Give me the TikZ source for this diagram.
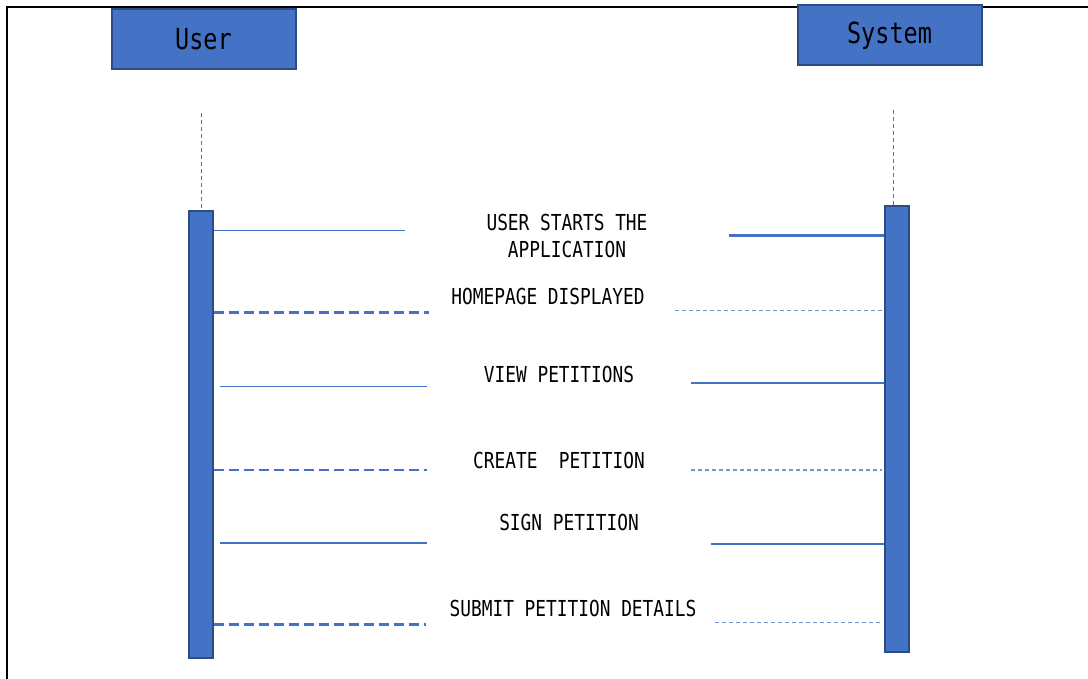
\documentclass[tikz,border=0pt]{standalone}
\usepackage{fontspec}
\newfontfamily\gothic[FakeStretch=0.81]{DejaVu Sans Mono}
\definecolor{boxblue}{HTML}{4472C4}
\definecolor{boxedge}{HTML}{2B4C85}
\definecolor{paleblue}{HTML}{7196D6}
\begin{document}
\begin{tikzpicture}[x=1pt,y=-1pt,
  actor/.style={draw=boxedge,line width=2pt,fill=boxblue,inner sep=0pt,
    minimum width=184pt,minimum height=60pt,font=\gothic\fontsize{29}{30}\selectfont},
  actbar/.style={draw=boxedge,line width=2pt,fill=boxblue,inner sep=0pt,minimum width=24pt},
  lifeline/.style={draw=boxblue,line width=1pt,dash pattern=on 4pt off 3pt},
  callthin/.style={draw=boxblue,line width=1.3pt},
  callthick/.style={draw=boxblue,line width=2.8pt},
  backthick/.style={draw=boxblue,line width=2.8pt,dash pattern=on 10pt off 5pt},
  backthin/.style={draw=paleblue,line width=1.2pt,dash pattern=on 4pt off 3pt},
  msg/.style={font=\gothic\fontsize{22}{27}\selectfont,align=center,inner sep=0pt}]
\useasboundingbox (0,0) rectangle (1088,679);
\fill[white] (0,0) rectangle (1088,679);

% page frame (top and left edges only)
\draw[black,line width=2.5pt] (7,679) -- (7,7) -- (1088,7);

% actors
\node[actor] (user) at (203.5,39) {User};
\node[actor] (sys) at (889.5,35.5) {System};

% activation bars
\node[actbar,minimum height=446pt,anchor=north] (ubar) at (200.5,210.5) {};
\node[actbar,minimum height=446pt,anchor=north] (sbar) at (897,205) {};

% lifelines above the bars
\coordinate (utop) at (201,113);
\coordinate (stop) at (893,110);
\draw[lifeline] (utop) -- (utop |- ubar.north);
\draw[lifeline] (stop) -- (stop |- sbar.north);

% free ends of the message strokes
\coordinate (m1u) at (405,230.5);
\coordinate (m1s) at (729,235.5);
\coordinate (m2u) at (429,312.5);
\coordinate (m2s) at (675,310.5);
\coordinate (m3u) at (427,386.5);
\coordinate (m3s) at (691,383);
\coordinate (m4u) at (427,470);
\coordinate (m4s) at (691,470);
\coordinate (m5u) at (427,543);
\coordinate (m5s) at (711,544);
\coordinate (m6u) at (426,624.5);
\coordinate (m6s) at (715,622.5);

% message strokes
\draw[callthin] (ubar.east |- m1u) -- (m1u);
\draw[callthick] (m1s) -- (m1s -| sbar.west);
\draw[backthick] (ubar.east |- m2u) -- (m2u);
\draw[backthin] (m2s) -- ([xshift=-2pt]m2s -| sbar.west);
\draw[callthin] ([xshift=6pt]ubar.east |- m3u) -- (m3u);
\draw[callthick] (m3s) -- (m3s -| sbar.west);
\draw[backthick] (ubar.east |- m4u) -- (m4u);
\draw[backthin] (m4s) -- ([xshift=-2pt]m4s -| sbar.west);
\draw[callthin] ([xshift=6pt]ubar.east |- m5u) -- (m5u);
\draw[callthick] (m5s) -- (m5s -| sbar.west);
\draw[backthick] (ubar.east |- m6u) -- (m6u);
\draw[backthin] (m6s) -- ([xshift=-2pt]m6s -| sbar.west);

% message labels
\node[msg] (t1) at (567,235.5) {USER STARTS THE\\APPLICATION};
\node[msg] (t2) at (548,296) {HOMEPAGE DISPLAYED};
\node[msg] (t3) at (559,374) {VIEW PETITIONS};
\node[msg] (t4) at (559,460) {CREATE\ \ PETITION};
\node[msg] (t5) at (569,522) {SIGN PETITION};
\node[msg] (t6) at (573,608) {SUBMIT PETITION DETAILS};
\end{tikzpicture}
\end{document}
